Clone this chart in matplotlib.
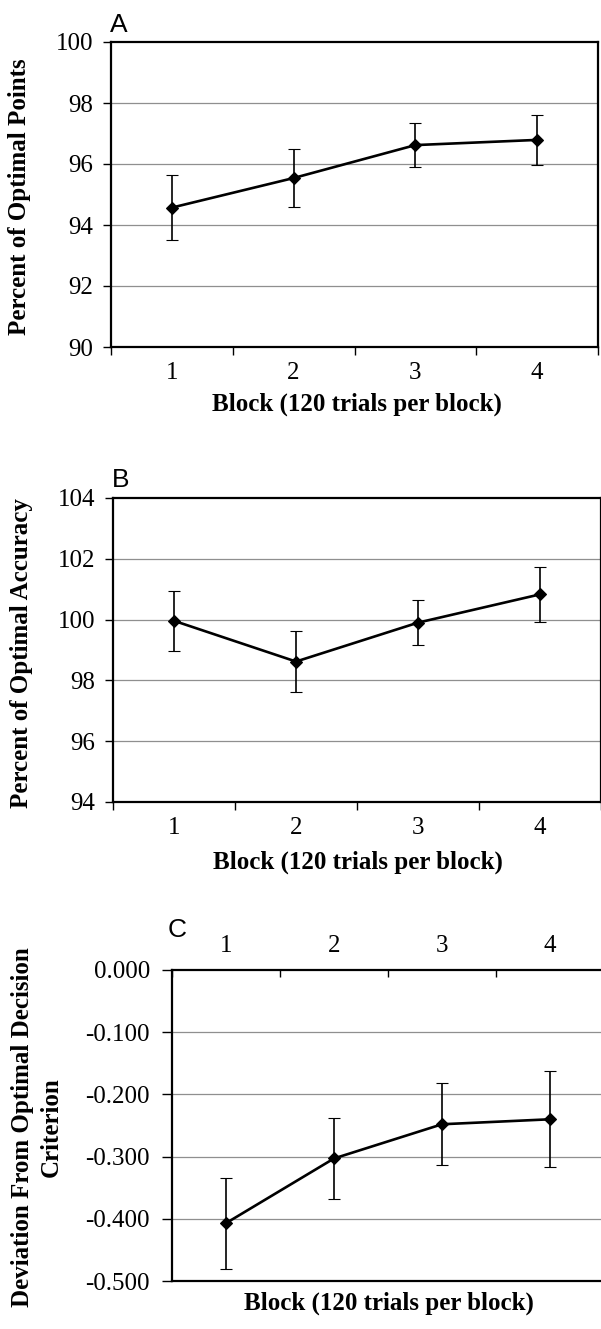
import numpy as np
import matplotlib
matplotlib.use('Agg')
import matplotlib.pyplot as plt

plt.rcParams['font.family'] = ['Liberation Serif', 'DejaVu Serif']

W, H = 601, 1329

blocks = [1, 2, 3, 4]
block_labels = ['1', '2', '3', '4']

# panel A: percent of optimal points
points_mean = [94.57, 95.54, 96.62, 96.79]
points_err = [1.07, 0.95, 0.73, 0.82]
points_ticks = [90, 92, 94, 96, 98, 100]

# panel B: percent of optimal accuracy
acc_mean = [99.96, 98.62, 99.90, 100.83]
acc_err = [0.99, 1.00, 0.73, 0.91]
acc_ticks = [94, 96, 98, 100, 102, 104]

# panel C: deviation from optimal decision criterion
dev_mean = [-0.407, -0.303, -0.248, -0.240]
dev_err = [0.073, 0.065, 0.066, 0.077]
dev_ticks = [-0.5, -0.4, -0.3, -0.2, -0.1, 0.0]

xlabel = 'Block (120 trials per block)'
TICK_FS = 18
LAB_FS = 18


def px_axes(fig, left, top, right, bottom):
    return fig.add_axes([left / W, 1 - bottom / H, (right - left) / W, (bottom - top) / H])


def fig_text(fig, x, y, s, **kw):
    fig.text(x / W, 1 - y / H, s, **kw)


def style(ax, means, errs, yticks, fmt, top_axis=False):
    ax.errorbar(blocks, means, yerr=errs, color='black', lw=1.9, marker='D', ms=6.3,
                mfc='black', mec='black', mew=0.8, elinewidth=1.2, capsize=4.4,
                capthick=1.4, zorder=3)
    ax.set_xlim(0.5, 4.5)
    ax.set_ylim(yticks[0], yticks[-1])
    ax.set_yticks(yticks)
    ax.set_yticklabels([fmt.format(t) for t in yticks])
    for t in yticks[1:-1]:
        ax.axhline(t, color='#8f8f8f', lw=0.9, zorder=1)
    ax.set_xticks(blocks)
    ax.set_xticklabels(block_labels)
    ax.set_xticks([0.5, 1.5, 2.5, 3.5, 4.5], minor=True)
    for sp in ax.spines.values():
        sp.set_linewidth(1.6)
        sp.set_color('black')
    ax.tick_params(axis='y', which='major', length=6, width=1.0, pad=7, labelsize=TICK_FS)
    if top_axis:
        ax.xaxis.tick_top()
        ax.tick_params(axis='x', which='major', length=0, pad=9, labelsize=TICK_FS)
        ax.tick_params(axis='x', which='minor', direction='in', length=5, width=1.0,
                       top=True, bottom=False)
    else:
        ax.tick_params(axis='x', which='major', length=0, pad=11, labelsize=TICK_FS)
        ax.tick_params(axis='x', which='minor', direction='out', length=6, width=1.0)


fig = plt.figure(figsize=(W / 100, H / 100), dpi=100)

# A
axA = px_axes(fig, 111, 42, 598, 347)
style(axA, points_mean, points_err, points_ticks, '{:d}')
fig_text(fig, 110, 32, 'A', family='Liberation Sans', fontsize=19, ha='left', va='baseline')
fig_text(fig, 20, 197, 'Percent of Optimal Points', fontsize=LAB_FS, fontweight='bold',
         rotation=90, ha='center', va='center')
fig_text(fig, 357, 404, xlabel, fontsize=LAB_FS, fontweight='bold', ha='center', va='center')

# B
axB = px_axes(fig, 113, 498, 601, 802)
style(axB, acc_mean, acc_err, acc_ticks, '{:d}')
fig_text(fig, 112, 487, 'B', family='Liberation Sans', fontsize=19, ha='left', va='baseline')
fig_text(fig, 22, 653, 'Percent of Optimal Accuracy', fontsize=LAB_FS, fontweight='bold',
         rotation=90, ha='center', va='center')
fig_text(fig, 358, 862, xlabel, fontsize=LAB_FS, fontweight='bold', ha='center', va='center')

# C
axC = px_axes(fig, 172, 970, 604, 1281)
style(axC, dev_mean, dev_err, dev_ticks, '{:.3f}', top_axis=True)
axC.tick_params(axis='y', which='major', length=7, pad=9)
fig_text(fig, 168, 937, 'C', family='Liberation Sans', fontsize=19, ha='left', va='baseline')
fig_text(fig, 37, 1127, 'Deviation From Optimal Decision\nCriterion', fontsize=LAB_FS,
         fontweight='bold', rotation=90, ha='center', va='center', multialignment='center',
         linespacing=1.3)
fig_text(fig, 389, 1303, xlabel, fontsize=LAB_FS, fontweight='bold', ha='center', va='center')

fig.savefig('out.png', dpi=100)
